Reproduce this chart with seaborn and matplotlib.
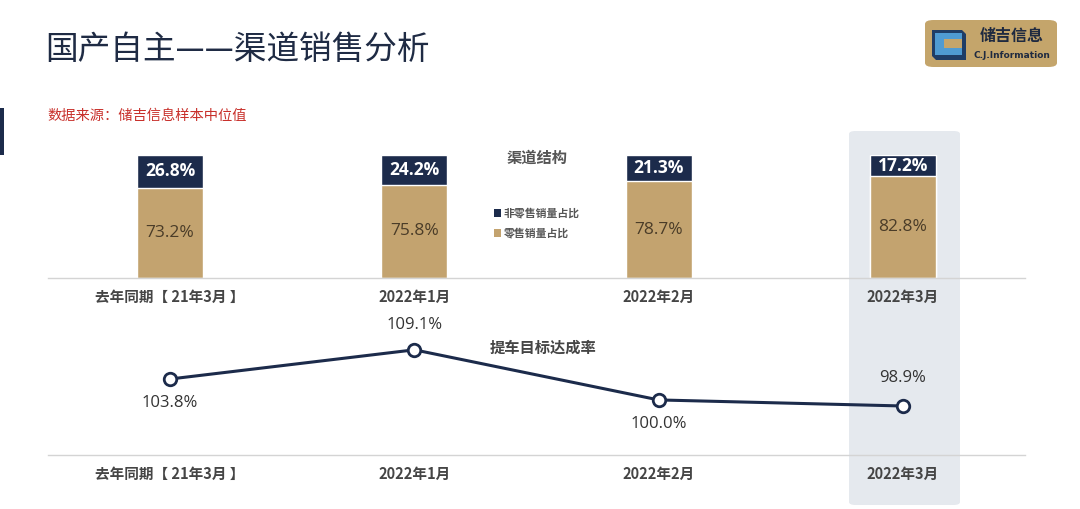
import matplotlib
matplotlib.use("Agg")
import matplotlib.pyplot as plt
from matplotlib.patches import FancyBboxPatch, Rectangle, Polygon
import seaborn as sns
import pandas as pd

sns.set_theme(style="white")
plt.rcParams['font.family'] = ['Noto Sans CJK SC', 'DejaVu Sans']

# ---------------- data ----------------
categories = ["去年同期【 21年3月 】", "2022年1月", "2022年2月", "2022年3月"]
non_retail = [26.8, 24.2, 21.3, 17.2]
retail = [73.2, 75.8, 78.7, 82.8]
achieve = [103.8, 109.1, 100.0, 98.9]
title = "国产自主——渠道销售分析"
source = "数据来源：储吉信息样本中位值"
legend_title = "渠道结构"
legend_labels = ["非零售销量占比", "零售销量占比"]
line_title = "提车目标达成率"

NAVY = "#1c2b4b"
GOLD = "#c3a36f"

W, H = 1080, 509
fig = plt.figure(figsize=(W / 100, H / 100), dpi=100)
fig.patch.set_facecolor("white")

def px_rect(x0, y0, x1, y1):
    return [x0 / W, 1 - y1 / H, (x1 - x0) / W, (y1 - y0) / H]

# highlight behind the last category
hl = FancyBboxPatch((849 / W, 1 - 505 / H), (960 - 849) / W, (505 - 131) / H,
                    boxstyle="round,pad=0,rounding_size=0.006", transform=fig.transFigure,
                    facecolor="#e5e9ee", edgecolor="none", zorder=-5)
fig.patches.append(hl)

# left accent bar
fig.patches.append(Rectangle((0, 1 - 155 / H), 4 / W, 47 / H, transform=fig.transFigure,
                             facecolor=NAVY, edgecolor="none"))

# title + source
fig.text(45 / W, 1 - 50 / H, title, fontsize=23.5, color="#1f2b44", va="center", ha="left",
         fontweight="medium")
fig.text(47 / W, 1 - 116 / H, source, fontsize=10.3, color="#c8302b", va="center", ha="left")

# logo
logo = FancyBboxPatch((925 / W, 1 - 67 / H), (1057 - 925) / W, (67 - 20) / H,
                      boxstyle="round,pad=0,rounding_size=0.008", transform=fig.transFigure,
                      facecolor="#c4a56b", edgecolor="none")
fig.patches.append(logo)
fig.patches.append(Polygon([(932 / W, 1 - 30 / H), (962 / W, 1 - 30 / H), (966 / W, 1 - 34 / H),
                            (966 / W, 1 - 60 / H), (936 / W, 1 - 60 / H), (932 / W, 1 - 56 / H)],
                           closed=True, transform=fig.transFigure, facecolor="#1f3d66", edgecolor="none"))
fig.patches.append(Rectangle((935 / W, 1 - 55 / H), 27 / W, 22 / H, transform=fig.transFigure,
                             facecolor="#4f9bd2", edgecolor="none"))
fig.patches.append(Rectangle((944 / W, 1 - 48 / H), 18 / W, 9 / H, transform=fig.transFigure,
                             facecolor="#c4a56b", edgecolor="none"))
fig.text(1012 / W, 1 - 36 / H, "储吉信息", fontsize=11.5, fontweight="bold", color="#1f2a40",
         ha="center", va="center")
fig.text(1012 / W, 1 - 55 / H, "C.J.Information", fontsize=6.5, fontweight="bold", color="#1f2a40",
         ha="center", va="center", family=["DejaVu Sans"])

# ---------------- bar chart ----------------
df_bar = pd.DataFrame({"cat": categories, "non_retail": non_retail, "retail": retail})
df_bar["total"] = df_bar["non_retail"] + df_bar["retail"]

ax1 = fig.add_axes(px_rect(48, 155, 1025, 278))
ax1.patch.set_alpha(0)
sns.barplot(data=df_bar, x="cat", y="total", color=NAVY, width=0.27, saturation=1, ax=ax1)
sns.barplot(data=df_bar, x="cat", y="retail", color=GOLD, width=0.27, saturation=1, ax=ax1)
ax1.set_xlim(-0.5, 3.5)
ax1.set_ylim(0, 100)
for i, (nr, r) in enumerate(zip(non_retail, retail)):
    ax1.text(i, r + nr / 2, f"{nr:.1f}%", ha="center", va="center", color="white",
             fontsize=12.5, fontweight="bold", family=["Open Sans", "DejaVu Sans"])
    ax1.text(i, r / 2, f"{r:.1f}%", ha="center", va="center", color="#4a3c28",
             fontsize=12.5, family=["Open Sans", "DejaVu Sans"])
ax1.set_xlabel("")
ax1.set_ylabel("")
ax1.set_yticks([])
ax1.tick_params(axis="x", length=0, pad=8, labelsize=10.5, labelcolor="#454545")
for lab in ax1.get_xticklabels():
    lab.set_fontweight("bold")
for s in ["top", "left", "right"]:
    ax1.spines[s].set_visible(False)
ax1.spines["bottom"].set_color("#d4d4d4")
ax1.spines["bottom"].set_linewidth(1.0)

# legend (drawn as figure text + squares)
fig.text(537 / W, 1 - 158 / H, legend_title, fontsize=11, fontweight="bold", color="#555555",
         ha="center", va="center")
for k, (lab, col) in enumerate(zip(legend_labels, [NAVY, GOLD])):
    yy = 213 + 20 * k
    fig.patches.append(Rectangle((494 / W, 1 - (yy + 3.5) / H), 7 / W, 7 / H,
                                 transform=fig.transFigure, facecolor=col, edgecolor="none"))
    fig.text(504 / W, 1 - yy / H, lab, fontsize=7.8, fontweight="bold", color="#555555",
             ha="left", va="center")

# ---------------- line chart ----------------
df_line = pd.DataFrame({"x": range(len(categories)), "v": achieve})
ax2 = fig.add_axes(px_rect(48, 330, 1025, 455))
ax2.patch.set_alpha(0)
sns.lineplot(data=df_line, x="x", y="v", color=NAVY, linewidth=2.2, marker="o",
             markersize=9, markerfacecolor="white", markeredgecolor=NAVY,
             markeredgewidth=2, ax=ax2)
ax2.set_xlim(-0.5, 3.5)
ax2.set_ylim(90, 112.7)
offsets = [(0, -17), (0, 18), (0, -17), (0, 20)]
for i, v in enumerate(achieve):
    dx, dy = offsets[i]
    ax2.annotate(f"{v:.1f}%", (i, v), xytext=(dx, dy), textcoords="offset points",
                 ha="center", va="center", fontsize=12, color="#333333",
                 family=["Open Sans", "DejaVu Sans"])
ax2.set_xticks(range(len(categories)))
ax2.set_xticklabels(categories)
ax2.set_xlabel("")
ax2.set_ylabel("")
ax2.set_yticks([])
ax2.tick_params(axis="x", length=0, pad=8, labelsize=10.5, labelcolor="#454545")
for lab in ax2.get_xticklabels():
    lab.set_fontweight("bold")
for s in ["top", "left", "right"]:
    ax2.spines[s].set_visible(False)
ax2.spines["bottom"].set_color("#d4d4d4")
ax2.spines["bottom"].set_linewidth(1.0)

fig.text(543 / W, 1 - 348 / H, line_title, fontsize=11, fontweight="bold", color="#454545",
         ha="center", va="center")

fig.savefig("out.png", dpi=100)
